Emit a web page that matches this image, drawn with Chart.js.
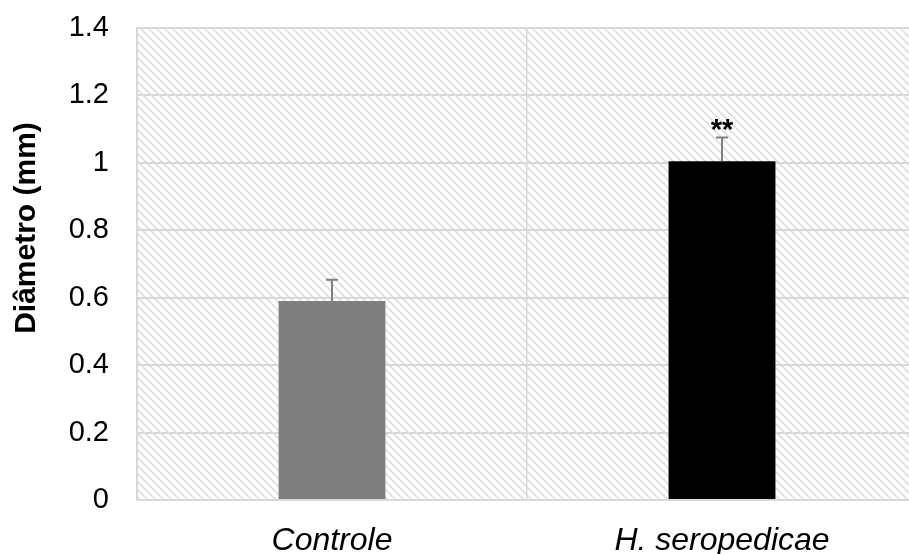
<!DOCTYPE html>
<html>
<head>
<meta charset="utf-8">
<script src="https://cdn.jsdelivr.net/npm/chart.js@4"></script>
<style>
  html, body { margin: 0; padding: 0; background: #fff; overflow: hidden; }
  #wrap { width: 920px; height: 554px; }
</style>
</head>
<body>
<div id="wrap"><canvas id="myChart"></canvas></div>
<script>
const categories = ['Controle', 'H. seropedicae'];
const values = [0.59, 1.005];
const errors = [0.063, 0.07];
const barColors = ['#7f7f7f', '#000000'];
const marks = ['', '**'];
const yTicks = [0, 0.2, 0.4, 0.6, 0.8, 1, 1.2, 1.4];
const yTitle = 'Diâmetro (mm)';

const FONT = '"Liberation Sans", Arial, sans-serif';

// diagonal hatch like the excel plot fill
function makeHatch() {
  const c = document.createElement('canvas');
  c.width = 8; c.height = 8;
  const g = c.getContext('2d');
  g.fillStyle = '#ffffff';
  g.fillRect(0, 0, 8, 8);
  g.strokeStyle = '#e2e2e2';
  g.lineWidth = 2;
  g.beginPath();
  g.moveTo(-4, -4); g.lineTo(12, 12);
  g.moveTo(-4, 4); g.lineTo(4, 12);
  g.moveTo(4, -4); g.lineTo(12, 4);
  g.stroke();
  return g.createPattern(c, 'repeat');
}

const hatchBg = {
  id: 'hatchBg',
  beforeDraw(chart) {
    const a = chart.chartArea;
    const ctx = chart.ctx;
    ctx.save();
    ctx.fillStyle = makeHatch();
    ctx.fillRect(a.left, a.top, a.right - a.left, a.bottom - a.top);
    ctx.restore();
  },
  afterDraw(chart) {
    const a = chart.chartArea;
    const ctx = chart.ctx;
    ctx.save();
    ctx.strokeStyle = '#d9d9d9';
    ctx.lineWidth = 2;
    ctx.strokeRect(a.left, a.top, a.right - a.left, a.bottom - a.top);
    // y axis title (excel puts it a bit above the middle)
    ctx.translate(27, 228);
    ctx.rotate(-Math.PI / 2);
    ctx.fillStyle = '#000';
    ctx.font = 'bold 30px ' + FONT;
    ctx.textAlign = 'center';
    ctx.textBaseline = 'middle';
    ctx.fillText(yTitle, 0, 0);
    ctx.restore();
  }
};

const errBars = {
  id: 'errBars',
  afterDatasetsDraw(chart) {
    const ctx = chart.ctx;
    const y = chart.scales.y;
    const meta = chart.getDatasetMeta(0);
    ctx.save();
    meta.data.forEach((bar, i) => {
      const top = y.getPixelForValue(values[i] + errors[i]);
      const base = y.getPixelForValue(values[i]);
      ctx.strokeStyle = '#808080';
      ctx.lineWidth = 2;
      ctx.beginPath();
      ctx.moveTo(bar.x, base);
      ctx.lineTo(bar.x, top);
      ctx.moveTo(bar.x - 6, top);
      ctx.lineTo(bar.x + 6, top);
      ctx.stroke();
      if (marks[i]) {
        ctx.fillStyle = '#000';
        ctx.font = 'bold 29px ' + FONT;
        ctx.textAlign = 'center';
        ctx.textBaseline = 'alphabetic';
        ctx.fillText(marks[i], bar.x, top + 1);
      }
    });
    ctx.restore();
  }
};

const ctx = document.getElementById('myChart').getContext('2d');
const myChart = new Chart(ctx, {
  type: 'bar',
  data: {
    labels: categories,
    datasets: [{
      data: values,
      backgroundColor: barColors,
      borderWidth: 0,
      categoryPercentage: 1,
      barPercentage: 0.274
    }]
  },
  options: {
    responsive: true,
    maintainAspectRatio: false,
    animation: false,
    layout: { padding: { top: 28, right: 3, left: 0, bottom: 0 } },
    plugins: {
      legend: { display: false },
      tooltip: { enabled: false }
    },
    scales: {
      x: {
        offset: true,
        grid: { offset: true, color: '#d9d9d9', lineWidth: 1.5, drawTicks: false },
        border: { display: false },
        ticks: {
          color: '#000',
          padding: 22,
          maxRotation: 0,
          font: { family: FONT, size: 32, style: 'italic' }
        },
        afterFit(scale) {
          scale.height = 54;
          scale.paddingLeft = 0;
          scale.paddingRight = 0;
        }
      },
      y: {
        min: 0,
        max: 1.4,
        afterBuildTicks(scale) { scale.ticks = yTicks.map(v => ({ value: v })); },
        grid: { color: '#d9d9d9', lineWidth: 2, drawTicks: false },
        border: { display: false },
        ticks: {
          color: '#000',
          padding: 28,
          font: { family: FONT, size: 29 },
          callback: (v) => String(v)
        },
        afterFit(scale) {
          scale.width = 137;
          scale.paddingTop = 0;
          scale.paddingBottom = 0;
        }
      }
    }
  },
  plugins: [hatchBg, errBars]
});
</script>
</body>
</html>
